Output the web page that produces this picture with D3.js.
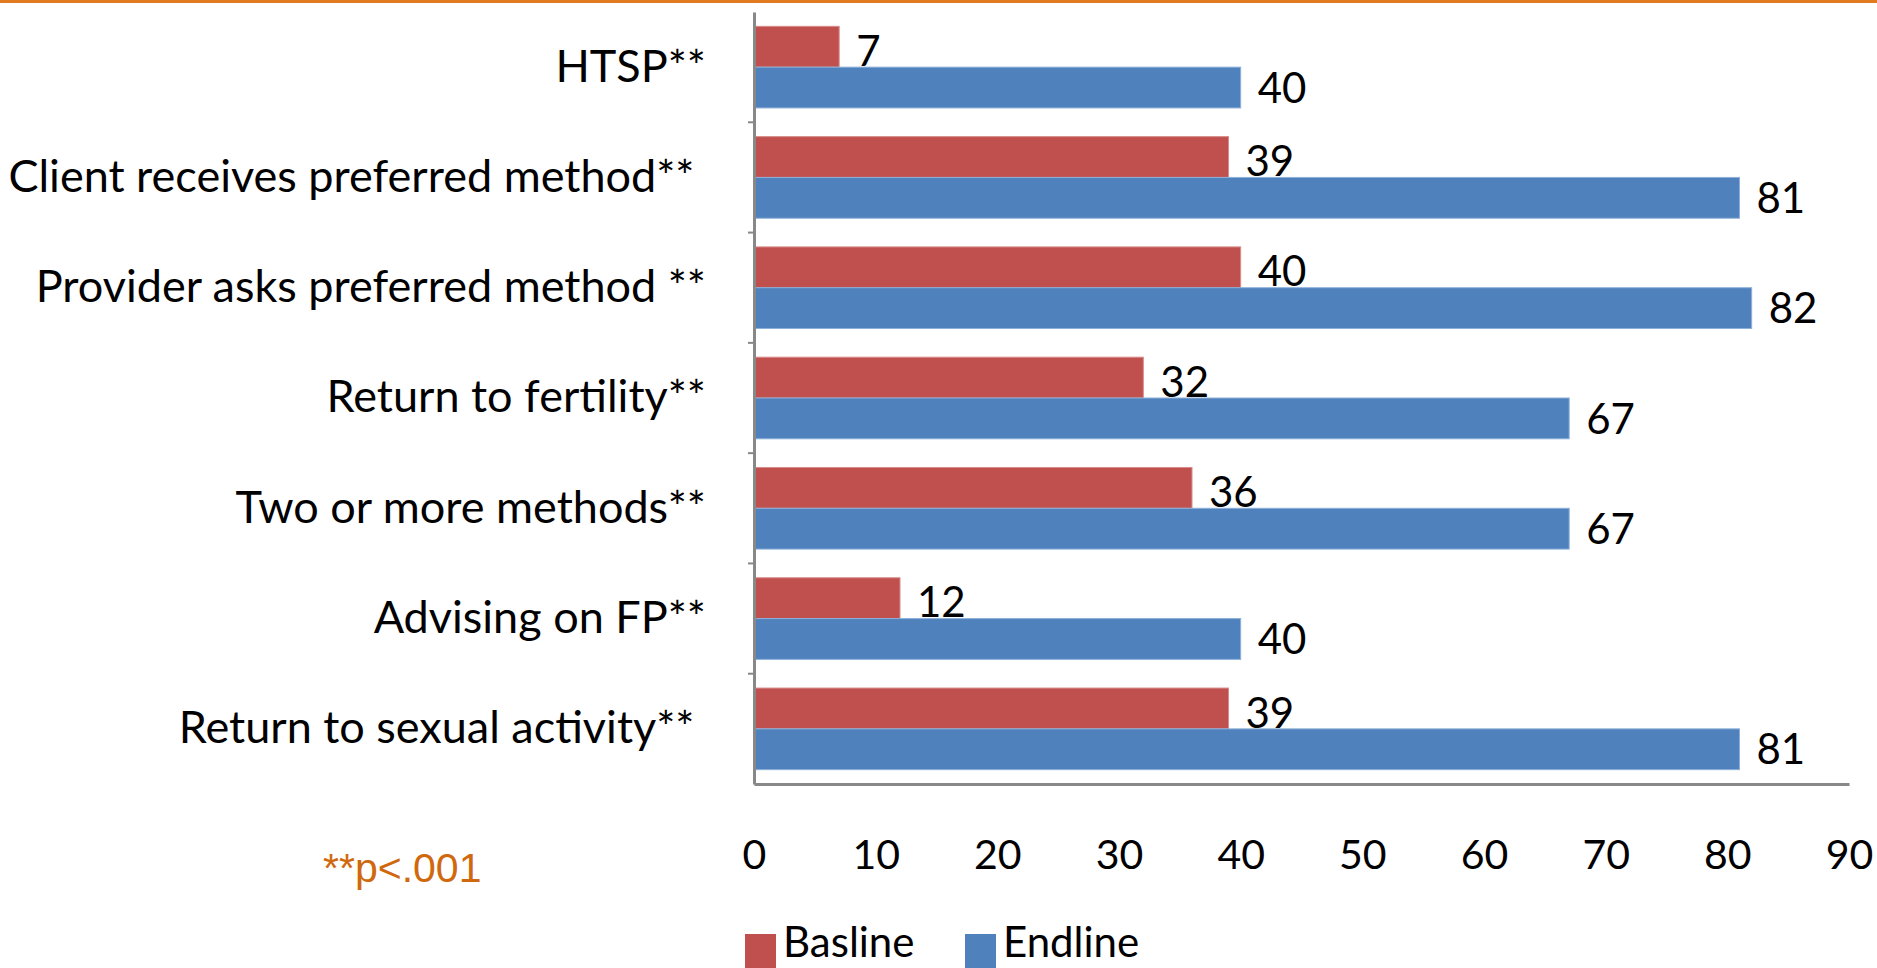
<!DOCTYPE html>
<html>
<head>
<meta charset="utf-8">
<script src="https://cdn.jsdelivr.net/npm/d3@7/dist/d3.min.js"></script>
<style>
  html, body { margin: 0; padding: 0; background: #fff; overflow: hidden; }
  svg text { white-space: pre; }
</style>
</head>
<body>
<svg id="chart" width="1877" height="968"></svg>
<script>
const categories = [
  "HTSP**",
  "Client receives preferred method** ",
  "Provider asks preferred method **",
  "Return to fertility**",
  "Two or more methods**",
  "Advising on FP**",
  "Return to sexual activity** "
];
const baseline = [7, 39, 40, 32, 36, 12, 39];
const endline = [40, 81, 82, 67, 67, 40, 81];
const tickValues = [0, 10, 20, 30, 40, 50, 60, 70, 80, 90];
const seriesNames = ["Basline", "Endline"];
const seriesColors = ["#C0504D", "#4F81BD"];
const footnote = "**p<.001";

(function () {
const svg = d3.select("#chart");
const W = 1877;
const plotLeft = 754, plotRight = 1849, plotTop = 12, plotBottom = 784;
const labelFont = "Lato, 'Open Sans', sans-serif";

// top orange rule
svg.append("rect").attr("x", 0).attr("y", 0).attr("width", W).attr("height", 3).attr("fill", "#E07B20");

const x = d3.scaleLinear().domain([0, 90]).range([plotLeft, plotRight]);
const y = d3.scaleBand().domain(categories).range([plotTop, plotBottom]).paddingInner(0.26).paddingOuter(0.13);
const sub = d3.scaleBand().domain(seriesNames).range([0, y.bandwidth()]);

// bars
const values = [baseline, endline];
seriesNames.forEach((s, si) => {
  svg.append("g").selectAll("rect").data(categories).join("rect")
    .attr("x", x(0))
    .attr("y", c => y(c) + sub(s))
    .attr("width", (c, i) => x(values[si][i]) - x(0))
    .attr("height", sub.bandwidth())
    .attr("fill", seriesColors[si])
    .attr("stroke", si === 0 ? "#D88C8A" : "#8DB0DA")
    .attr("stroke-width", 1);
  svg.append("g").selectAll("text").data(categories).join("text")
    .attr("x", (c, i) => x(values[si][i]) + 17)
    .attr("y", c => y(c) + sub(s) + sub.bandwidth() / 2 + (si === 0 ? 4 : 0))
    .attr("dy", "0.36em")
    .attr("font-family", labelFont)
    .attr("font-size", 42)
    .attr("fill", "#000")
    .text((c, i) => values[si][i]);
});

// bottom axis
const xAxis = svg.append("g").attr("transform", `translate(0,${plotBottom})`)
  .call(d3.axisBottom(x).tickValues(tickValues).tickSize(0).tickSizeOuter(0).tickPadding(56).tickFormat(d3.format("d")));
xAxis.select(".domain").attr("stroke", "#888").attr("stroke-width", 3);
xAxis.selectAll("text").attr("font-family", labelFont).attr("font-size", 41).attr("fill", "#000");

// left axis line
const yAxis = svg.append("g").attr("transform", `translate(${plotLeft},0)`)
  .call(d3.axisLeft(y).tickValues([]).tickSizeOuter(0));
yAxis.select(".domain").attr("stroke", "#888").attr("stroke-width", 3);

// boundary ticks
const bounds = categories.slice(1).map(c => y(c) - y.step() * y.paddingInner() / 2);
svg.append("g").selectAll("line").data(bounds).join("line")
  .attr("x1", plotLeft - 6).attr("x2", plotLeft)
  .attr("y1", d => d).attr("y2", d => d)
  .attr("stroke", "#888").attr("stroke-width", 2);

// category labels
const yLabels = svg.append("g").attr("transform", `translate(${plotLeft},0)`)
  .call(d3.axisLeft(y).tickSize(0).tickPadding(48));
yLabels.select(".domain").remove();
yLabels.selectAll("text").attr("font-family", labelFont).attr("font-size", 45).attr("fill", "#000");

// footnote
svg.append("text").attr("x", 323).attr("y", 867).attr("dy", "0.36em")
  .attr("font-family", "'Liberation Sans', Arial, sans-serif").attr("font-size", 41)
  .attr("fill", "#D0690E").text(footnote);

// legend
const legendX = [745, 965];
seriesNames.forEach((s, i) => {
  svg.append("rect").attr("x", legendX[i]).attr("y", 934).attr("width", 31).attr("height", 34).attr("fill", seriesColors[i]);
  svg.append("text").attr("x", legendX[i] + 38).attr("y", 957)
    .attr("font-family", labelFont).attr("font-size", 42).attr("fill", "#000").text(s);
});
})();
</script>
</body>
</html>
